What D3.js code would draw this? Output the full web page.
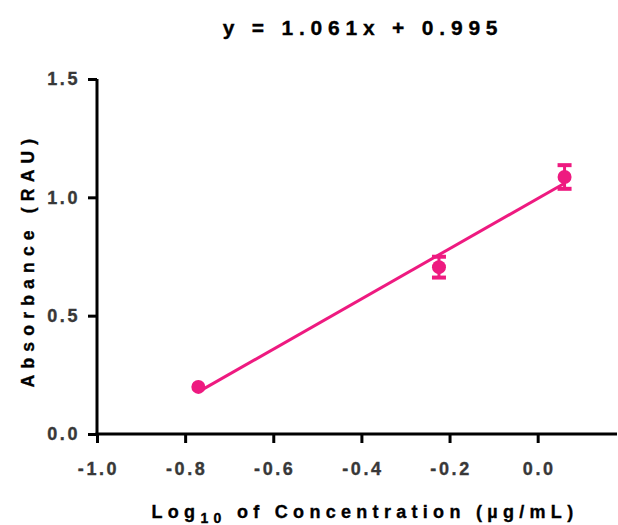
<!DOCTYPE html>
<html>
<head>
<meta charset="utf-8">
<script src="https://cdn.jsdelivr.net/npm/d3@7/dist/d3.min.js"></script>
<style>
  html, body { margin: 0; padding: 0; background: #fff; }
  svg { display: block; font-family: "Liberation Sans", Arial, sans-serif; }
</style>
</head>
<body>
<svg id="chart" width="618" height="525"></svg>
<script>
// Standard curve: log10 concentration vs absorbance (mean ± error)
const logConc = [-0.770, -0.224, 0.061];
const absorbance = [0.199, 0.705, 1.086];
const absError = [0, 0.044, 0.050];
const slope = 1.061;
const intercept = 0.995;
const xTicks = [-1.0, -0.8, -0.6, -0.4, -0.2, 0.0];
const yTicks = [0.0, 0.5, 1.0, 1.5];

const pink = "#EE1A80";
const svg = d3.select("#chart");

const x = d3.scaleLinear().domain([-1, 0.18]).range([97, 617]);
const y = d3.scaleLinear().domain([0, 1.5]).range([434, 79]);

// plain hyphen for negatives
const fmt = d => d3.format(".1f")(d).replace("\u2212", "-");

// Axes
const xAxis = svg.append("g").attr("transform", `translate(0,${y(0)})`)
  .call(d3.axisBottom(x).tickValues(xTicks).tickFormat(fmt).tickSizeOuter(0).tickSize(9).tickPadding(19));
const yAxis = svg.append("g").attr("transform", `translate(${x(-1)},0)`)
  .call(d3.axisLeft(y).tickValues(yTicks).tickFormat(fmt).tickSizeOuter(0).tickSize(9).tickPadding(8));

[xAxis, yAxis].forEach(g => {
  g.select(".domain").attr("stroke", "#000").attr("stroke-width", 3);
  g.selectAll(".tick line").attr("stroke", "#000").attr("stroke-width", 3);
  g.selectAll(".tick text")
    .attr("fill", "#383838")
    .attr("stroke", "#383838").attr("stroke-width", 0.35)
    .style("font-size", "18px")
    .style("font-weight", "bold")
    .style("letter-spacing", "2.6px")
    .style("font-family", "'Liberation Sans', Arial, sans-serif");
});
// square corner where the two axis lines meet
xAxis.select(".domain").attr("d", `M${x(-1) - 1.5},0H${x(0.18)}`);
yAxis.select(".domain").attr("d", `M0,${y(1.5)}V${y(0) + 1.5}`);
xAxis.selectAll(".tick text").attr("dx", "1px");

// Regression line across the data range
const xMin = d3.min(logConc), xMax = d3.max(logConc);
svg.append("line")
  .attr("x1", x(xMin)).attr("y1", y(slope * xMin + intercept))
  .attr("x2", x(xMax)).attr("y2", y(slope * xMax + intercept))
  .attr("stroke", pink).attr("stroke-width", 3);

// Error bars
const pts = logConc.map((v, i) => ({ x: v, y: absorbance[i], e: absError[i] }));
const eb = svg.append("g").selectAll("g").data(pts.filter(d => d.e > 0)).join("g");
eb.append("line")
  .attr("x1", d => x(d.x)).attr("x2", d => x(d.x))
  .attr("y1", d => y(d.y + d.e)).attr("y2", d => y(d.y - d.e))
  .attr("stroke", pink).attr("stroke-width", 3);
eb.selectAll(".cap").data(d => [[d.x, d.y + d.e], [d.x, d.y - d.e]]).join("line")
  .attr("x1", d => x(d[0]) - 7).attr("x2", d => x(d[0]) + 7)
  .attr("y1", d => y(d[1])).attr("y2", d => y(d[1]))
  .attr("stroke", pink).attr("stroke-width", 4);

// Points
svg.append("g").selectAll("circle").data(pts).join("circle")
  .attr("cx", d => x(d.x)).attr("cy", d => y(d.y)).attr("r", 7)
  .attr("fill", pink);

// Title
svg.append("text")
  .attr("x", 363).attr("y", 35)
  .attr("text-anchor", "middle")
  .attr("stroke", "#000").attr("stroke-width", 0.35)
  .style("font-size", "21px").style("font-weight", "bold")
  .style("letter-spacing", "5.8px")
  .text(`y = ${slope.toFixed(3)}x + ${intercept.toFixed(3)}`);

// Y axis title
svg.append("text")
  .attr("transform", "translate(34,260) rotate(-90)")
  .attr("text-anchor", "middle")
  .attr("stroke", "#000").attr("stroke-width", 0.35)
  .style("font-size", "17.5px").style("font-weight", "bold")
  .style("letter-spacing", "6.2px")
  .text("Absorbance (RAU)");

// X axis title with subscript
const xt = svg.append("text")
  .attr("x", 365).attr("y", 518)
  .attr("text-anchor", "middle")
  .attr("stroke", "#000").attr("stroke-width", 0.35)
  .style("font-size", "18px").style("font-weight", "bold")
  .style("letter-spacing", "5.3px");
xt.append("tspan").text("Log");
xt.append("tspan").attr("dy", 5).style("font-size", "14px").text("10");
xt.append("tspan").attr("dy", -5).text(" of Concentration (µg/mL)");
</script>
</body>
</html>
